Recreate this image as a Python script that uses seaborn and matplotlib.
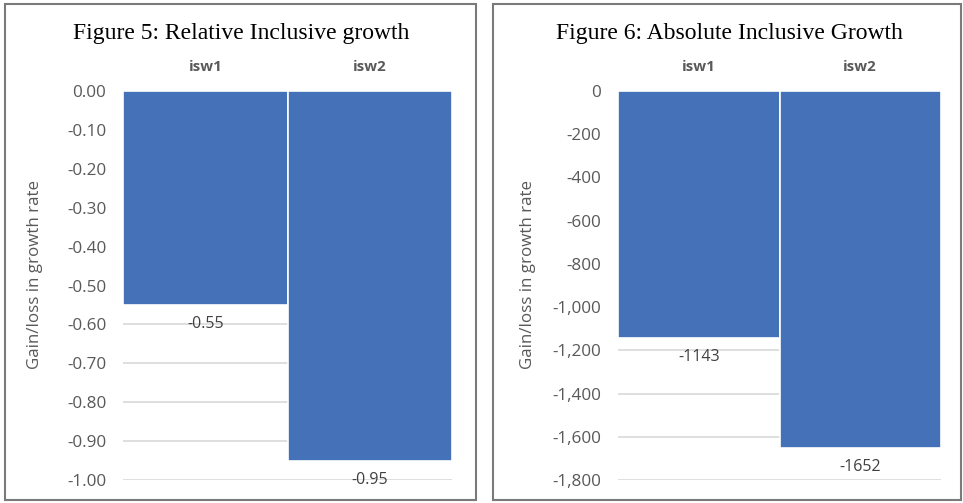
import matplotlib
matplotlib.use("Agg")
import matplotlib.pyplot as plt
import seaborn as sns
import pandas as pd
from matplotlib.patches import Rectangle
from matplotlib.ticker import FuncFormatter

categories = ["isw1", "isw2"]
relative_values = [-0.55, -0.95]
absolute_values = [-1143, -1652]
relative_ticks = [0.0, -0.1, -0.2, -0.3, -0.4, -0.5, -0.6, -0.7, -0.8, -0.9, -1.0]
absolute_ticks = [0, -200, -400, -600, -800, -1000, -1200, -1400, -1600, -1800]

BAR_COLOR = "#4571B8"
TEXT_GRAY = "#595959"
GRID_GRAY = "#d9d9d9"
BORDER_GRAY = "#7a7a7a"
SANS = ["Open Sans", "DejaVu Sans"]
SERIF = ["Liberation Serif", "DejaVu Serif"]

sns.set_theme(style="white")
plt.rcParams["font.family"] = SANS

fig = plt.figure(figsize=(9.63, 5.03), dpi=100)

# panel frames
for x0, w in [(5 / 963, 471 / 963), (493 / 963, 468 / 963)]:
    fig.patches.append(Rectangle((x0, 3 / 503), w, 496 / 503, transform=fig.transFigure,
                                 fill=False, edgecolor=BORDER_GRAY, linewidth=1.5))


def panel(rect, values, ticks, fmt, label_fmt, title, title_x, ylabel_x):
    ax = fig.add_axes(rect)
    df = pd.DataFrame({"cat": categories, "val": values})
    sns.barplot(data=df, x="cat", y="val", color=BAR_COLOR, width=1.0, saturation=1,
                edgecolor="white", linewidth=1.2, ax=ax, zorder=3)
    ax.set_xlim(-0.5, 1.5)
    ax.set_ylim(min(ticks), 0)
    ax.set_yticks(ticks)
    ax.yaxis.set_major_formatter(FuncFormatter(fmt))
    ax.xaxis.tick_top()
    ax.tick_params(axis="x", length=0, pad=12, labelsize=10.8, labelcolor=TEXT_GRAY)
    for t in ax.get_xticklabels():
        t.set_fontweight("bold")
    ax.tick_params(axis="y", length=0, pad=12, labelsize=12.3, labelcolor=TEXT_GRAY)
    ax.grid(axis="y", color=GRID_GRAY, linewidth=1.2, zorder=0)
    ax.set_axisbelow(True)
    for s in ax.spines.values():
        s.set_visible(False)
    ax.set_xlabel("")
    ax.set_ylabel("Gain/loss in growth rate", color=TEXT_GRAY, fontsize=12.2)
    ax.yaxis.label.set_va("center")
    ax.yaxis.set_label_coords(ylabel_x, 0.527)
    for i, v in enumerate(values):
        ax.annotate(label_fmt(v), (i, v), xytext=(0, -8), textcoords="offset points",
                    ha="center", va="top", fontsize=11.5, color="#404040")
    fig.text(title_x, 1 - 33 / 503, title, ha="center", va="center",
             fontsize=17, family=SERIF, color="black")
    return ax


panel([123 / 963, 1 - 480 / 503, 329 / 963, 389 / 503], relative_values, relative_ticks,
      lambda v, p: f"{v:.2f}", lambda v: f"{v:.2f}",
      "Figure 5: Relative Inclusive growth", 241 / 963, (35 - 123) / 329)
panel([618 / 963, 1 - 480 / 503, 323 / 963, 389 / 503], absolute_values, absolute_ticks,
      lambda v, p: f"{v:,.0f}", lambda v: f"{v:.0f}",
      "Figure 6: Absolute Inclusive Growth", 729 / 963, (528 - 618) / 323)

fig.savefig("out.png", dpi=100)
